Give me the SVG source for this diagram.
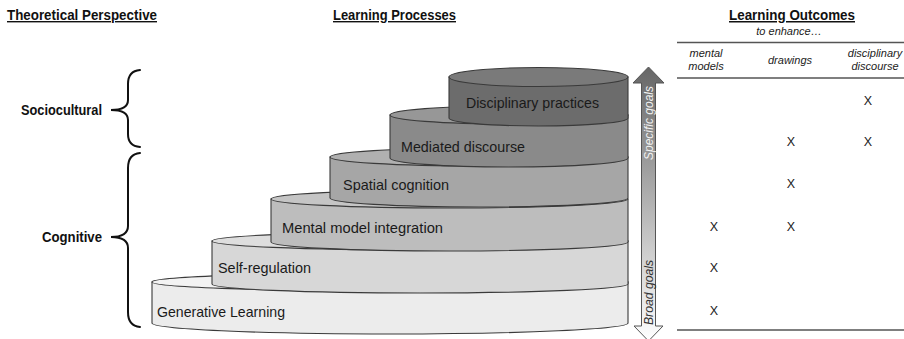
<svg xmlns="http://www.w3.org/2000/svg" width="904" height="339" viewBox="0 0 904 339">
<defs>
<style>
text{font-family:"Liberation Sans",Arial,sans-serif;}
.hdr{font-weight:bold;font-size:14px;text-decoration:underline;fill:#111;}
.pers{font-weight:bold;font-size:14px;fill:#111;}
.lbl{font-size:15px;fill:#1a1a1a;}
.col{font-style:italic;font-size:11px;fill:#222;text-anchor:middle;}
.x{font-size:12.5px;fill:#222;text-anchor:middle;}
.edge{stroke:#3a3a3a;stroke-width:1.1;}
.brace{fill:none;stroke:#111;stroke-width:2;stroke-linecap:round;}
.rule{stroke:#555;stroke-width:1.3;}
</style>
<linearGradient id="arrowGrad" x1="0" y1="0" x2="0" y2="1">
<stop offset="0" stop-color="#666"/>
<stop offset="1" stop-color="#fff"/>
</linearGradient>
</defs>
<rect width="904" height="339" fill="#fff"/>

<g id="headers">
<text class="hdr" x="7" y="20" textLength="150" lengthAdjust="spacingAndGlyphs">Theoretical Perspective</text>
<text class="hdr" x="333" y="20" textLength="123" lengthAdjust="spacingAndGlyphs">Learning Processes</text>
<text class="hdr" x="729" y="20" textLength="126" lengthAdjust="spacingAndGlyphs" style="font-size:15px">Learning Outcomes</text>
<text class="col" x="789" y="35">to enhance…</text>
</g>

<g id="perspective-sociocultural">
<text class="pers" x="102" y="115" text-anchor="end" textLength="81" lengthAdjust="spacingAndGlyphs">Sociocultural</text>
<path class="brace" d="M140,70 Q128,71 128,84 L128,100 Q128,110 111,110 Q128,110 128,120 L128,134 Q128,146 140,147"/>
</g>
<g id="perspective-cognitive">
<text class="pers" x="102" y="242" text-anchor="end" textLength="60" lengthAdjust="spacingAndGlyphs">Cognitive</text>
<path class="brace" d="M140,153 Q128,154 128,168 L128,226 Q128,237 111,237 Q128,237 128,248 L128,312 Q128,326 140,327"/>
</g>

<g id="generative-learning">
<path class="edge" fill="#ececec" d="M152,282 V323 A238,11 0 0 0 628,323 V282 Z"/>
<ellipse class="edge" cx="390" cy="282" rx="238" ry="9" fill="#f3f3f3"/>
<text class="lbl" x="157" y="317" textLength="128" lengthAdjust="spacingAndGlyphs">Generative Learning</text>
</g>
<g id="self-regulation">
<path class="edge" fill="#d7d7d7" d="M212,241 V284 A208,9 0 0 0 628,284 V241 Z"/>
<ellipse class="edge" cx="420" cy="241" rx="208" ry="9" fill="#dedede"/>
<text class="lbl" x="218" y="273" textLength="93" lengthAdjust="spacingAndGlyphs">Self-regulation</text>
</g>
<g id="mental-model-integration">
<path class="edge" fill="#bdbdbd" d="M271,199 V242 A178.5,9 0 0 0 628,242 V199 Z"/>
<ellipse class="edge" cx="449.5" cy="199" rx="178.5" ry="9" fill="#c5c5c5"/>
<text class="lbl" x="282" y="233" textLength="161" lengthAdjust="spacingAndGlyphs">Mental model integration</text>
</g>
<g id="spatial-cognition">
<path class="edge" fill="#a6a6a6" d="M330,157 V198 A149,9 0 0 0 628,198 V157 Z"/>
<ellipse class="edge" cx="479" cy="157" rx="149" ry="9" fill="#b0b0b0"/>
<text class="lbl" x="343" y="190" textLength="106" lengthAdjust="spacingAndGlyphs">Spatial cognition</text>
</g>
<g id="mediated-discourse">
<path class="edge" fill="#8a8a8a" d="M390,115 V158 A119,9 0 0 0 628,158 V115 Z"/>
<ellipse class="edge" cx="509" cy="115" rx="119" ry="9" fill="#979797"/>
<text class="lbl" x="401" y="152" textLength="124" lengthAdjust="spacingAndGlyphs">Mediated discourse</text>
</g>
<g id="disciplinary-practices">
<path class="edge" fill="#6c6c6c" d="M449,77 V118 A89.5,8 0 0 0 628,118 V77 Z"/>
<ellipse class="edge" cx="538.5" cy="77" rx="89.5" ry="9.5" fill="#7a7a7a"/>
<text class="lbl" x="466" y="108" textLength="133" lengthAdjust="spacingAndGlyphs">Disciplinary practices</text>
</g>

<g id="connectors">
<polygon points="648.5,67 633,83 641.5,83 641.5,326 634,326 648.5,341 663,326 655.5,326 655.5,83 664,83" fill="url(#arrowGrad)" stroke="#555" stroke-width="1"/>
<text x="653" y="160" transform="rotate(-90 653 160)" style="font-style:italic;font-size:12px;fill:#f2f2f2" textLength="74" lengthAdjust="spacingAndGlyphs">Specific goals</text>
<text x="653" y="325" transform="rotate(-90 653 325)" style="font-style:italic;font-size:12px;fill:#333" textLength="65" lengthAdjust="spacingAndGlyphs">Broad goals</text>
</g>

<g id="outcomes-table">
<line class="rule" x1="677" y1="42.5" x2="904" y2="42.5"/>
<line class="rule" x1="677" y1="78" x2="904" y2="78"/>
<line class="rule" x1="677" y1="330" x2="904" y2="330"/>
<text class="col" x="706" y="57">mental</text>
<text class="col" x="706" y="70">models</text>
<text class="col" x="790" y="64">drawings</text>
<text class="col" x="875" y="57">disciplinary</text>
<text class="col" x="875" y="70">discourse</text>
<text class="x" x="868" y="104.5">X</text>
<text class="x" x="791" y="146">X</text>
<text class="x" x="868" y="146">X</text>
<text class="x" x="791" y="187.5">X</text>
<text class="x" x="714" y="230.5">X</text>
<text class="x" x="791" y="230.5">X</text>
<text class="x" x="714" y="271.5">X</text>
<text class="x" x="714" y="314.5">X</text>
</g>
</svg>
